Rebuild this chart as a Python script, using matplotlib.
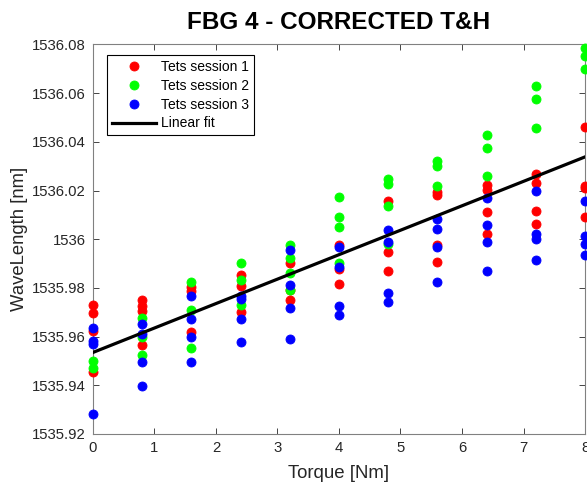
import matplotlib
matplotlib.use("Agg")
import matplotlib.pyplot as plt
from matplotlib.ticker import FuncFormatter, MultipleLocator
import numpy as np

plt.rcParams['font.family'] = ['Liberation Sans', 'DejaVu Sans']

# Torque values (Nm)
torque = [0.0, 0.8, 1.6, 2.4, 3.2, 4.0, 4.8, 5.6, 6.4, 7.2, 8.0]

# Session 1 (red) wavelengths per torque
s1 = [
    [1535.9729, 1535.9698, 1535.9623, 1535.9453],
    [1535.9750, 1535.9727, 1535.9707, 1535.9565],
    [1535.9805, 1535.9789, 1535.9621],
    [1535.9853, 1535.9806, 1535.9700],
    [1535.9904, 1535.9790, 1535.9749],
    [1535.9978, 1535.9877, 1535.9817],
    [1536.0159, 1535.9946, 1535.9870],
    [1536.0193, 1536.0183, 1535.9976, 1535.9905],
    [1536.0224, 1536.0204, 1536.0111, 1536.0020],
    [1536.0270, 1536.0229, 1536.0115, 1536.0064],
    [1536.0460, 1536.0220, 1536.0210, 1536.0091],
]

# Session 2 (green)
s2 = [
    [1535.9501, 1535.9471],
    [1535.9675, 1535.9597, 1535.9524],
    [1535.9823, 1535.9711, 1535.9552],
    [1535.9901, 1535.9833, 1535.9731],
    [1535.9976, 1535.9921, 1535.9863, 1535.9792],
    [1536.0175, 1536.0091, 1536.0050, 1535.9901],
    [1536.0247, 1536.0227, 1536.0136, 1535.9980],
    [1536.0322, 1536.0301, 1536.0220],
    [1536.0430, 1536.0374, 1536.0260],
    [1536.0629, 1536.0575, 1536.0457],
    [1536.0785, 1536.0751, 1536.0699],
]

# Session 3 (blue)
s3 = [
    [1535.9637, 1535.9582, 1535.9569, 1535.9284],
    [1535.9650, 1535.9609, 1535.9495, 1535.9399],
    [1535.9766, 1535.9674, 1535.9600, 1535.9495],
    [1535.9765, 1535.9755, 1535.9673, 1535.9576],
    [1535.9955, 1535.9813, 1535.9718, 1535.9589],
    [1535.9969, 1535.9885, 1535.9727, 1535.9687],
    [1536.0037, 1535.9989, 1535.9779, 1535.9741],
    [1536.0084, 1536.0041, 1535.9969, 1535.9826],
    [1536.0168, 1536.0057, 1535.9989, 1535.9871],
    [1536.0197, 1536.0020, 1535.9999, 1535.9915],
    [1536.0159, 1536.0013, 1535.9982, 1535.9935],
]

labels = ["Tets session 1", "Tets session 2", "Tets session 3", "Linear fit"]
fit_slope = 0.01004
fit_intercept = 1535.9535

fig = plt.figure(figsize=(5.87, 4.82), dpi=100)
ax = fig.add_axes([0.1584, 0.0996, 0.8382, 0.8081])

def flatten(series):
    xs, ys = [], []
    for t, vals in zip(torque, series):
        for v in vals:
            xs.append(t)
            ys.append(v)
    return xs, ys

for series, color, lab in zip([s1, s2, s3], ['#ff0000', '#00ff00', '#0000ff'], labels[:3]):
    xs, ys = flatten(series)
    ax.plot(xs, ys, linestyle='none', marker='o', markersize=6.5,
            markerfacecolor=color, markeredgecolor=color, markeredgewidth=0.6,
            label=lab, clip_on=False, zorder=3)

xfit = np.array([torque[0], torque[-1]])
ax.plot(xfit, fit_intercept + fit_slope * xfit, color='black', linewidth=2.3,
        label=labels[3], zorder=4)

ax.set_xlim(0, 8)
ax.set_ylim(1535.92, 1536.08)
ax.xaxis.set_major_locator(MultipleLocator(1))
ax.yaxis.set_major_locator(MultipleLocator(0.02))

def yfmt(v, pos):
    return f"{v:.2f}".rstrip('0').rstrip('.')
ax.yaxis.set_major_formatter(FuncFormatter(yfmt))

ax.tick_params(direction='in', top=True, right=True, length=4, width=0.6,
               colors='#262626', labelsize=10.7, pad=5)
for sp in ax.spines.values():
    sp.set_color('#808080')
    sp.set_linewidth(0.8)

ax.set_xlabel("Torque [Nm]", fontsize=13.4, color='#262626', labelpad=7)
ax.set_ylabel("WaveLength [nm]", fontsize=13.3, color='#262626', labelpad=3)
ax.set_title("FBG 4 - CORRECTED T&H", fontsize=17.5, fontweight='bold', pad=11)

leg = ax.legend(loc='upper left', bbox_to_anchor=(0.0285, 0.973), borderaxespad=0,
                fontsize=10, frameon=True, fancybox=False, edgecolor='black',
                framealpha=1, handlelength=3.2, handletextpad=0.35,
                labelspacing=0.35, borderpad=0.35, numpoints=1)
leg.get_frame().set_linewidth(0.8)

fig.savefig("out.png", dpi=100)
